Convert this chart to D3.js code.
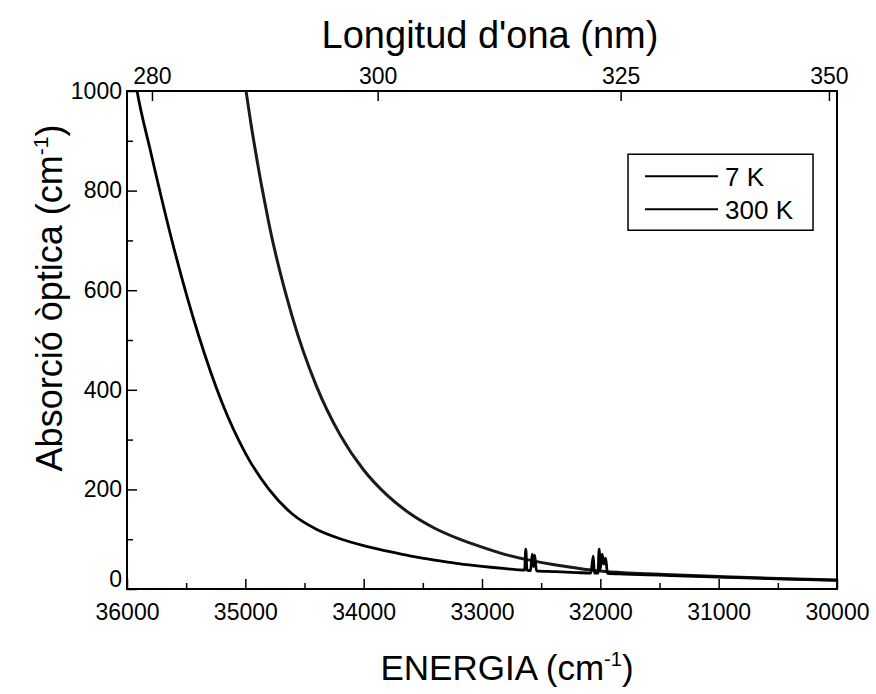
<!DOCTYPE html>
<html>
<head>
<meta charset="utf-8">
<script src="https://cdn.jsdelivr.net/npm/d3@7"></script>
<style>
  body { margin: 0; background: #fff; }
  text { font-family: "Liberation Sans", Arial, sans-serif; fill: #000; }
</style>
</head>
<body>
<svg id="chart"></svg>
<script>
// 7 K spectrum (energy in cm-1, absorption in cm-1), sharp lines near 32600 and 32000
var energy7K = [35960, 35915, 35800, 35600, 35400, 35200, 35000, 34800, 34600, 34400, 34200, 34000,
                33800, 33600, 33400, 33200, 33000, 32800,
                32640, 32630, 32620, 32590, 32575, 32565, 32555, 32540,
                32400, 32200, 32080, 32060, 32050, 32020, 32010, 32000, 31985, 31970, 31955, 31940,
                31800, 31600, 31400, 31000, 30500, 30000];
var abs7K    = [1066, 1000, 878, 681, 513, 376, 273, 200, 150, 120, 101, 87,
                76, 66, 58, 51, 45.5, 41,
                38, 80, 38, 37, 70, 45, 68, 36.5,
                35, 33, 32, 66, 32, 32, 80, 40, 70, 50, 62, 31.5,
                30, 28.5, 27, 24, 20.5, 17.5];

// 300 K spectrum
var energy300K = [35040, 34994, 34800, 34600, 34400, 34200, 34000, 33800, 33600, 33400, 33200, 33000,
                  32800, 32600, 32400, 32200, 32000, 31800, 31600, 31400, 31000, 30500, 30000];
var abs300K    = [1080, 1000, 733, 544, 408, 310, 239, 188, 150, 122, 101, 84,
                  69, 58, 49, 42, 36, 32.5, 30.5, 28.5, 25, 21, 18];

var xTicks = [36000, 35000, 34000, 33000, 32000, 31000, 30000];
var yTicks = [0, 200, 400, 600, 800, 1000];
var nmTicks = [280, 300, 325, 350];
// energies (on the bottom scale) where the 280 and 350 nm ticks sit
var nmRef = [280, 350];
var nmRefEnergy = [35789, 30068];

var seriesNames = ["7 K", "300 K"];

var svgWidth = 876, svgHeight = 694;
var margin = { top: 91, right: 39, bottom: 105, left: 127 };
var width = svgWidth - margin.left - margin.right;
var height = svgHeight - margin.top - margin.bottom;

var svg = d3.select("#chart")
    .attr("width", svgWidth)
    .attr("height", svgHeight);

var g = svg.append("g")
    .attr("transform", "translate(" + margin.left + "," + margin.top + ")");

var x = d3.scaleLinear().domain([36000, 30000]).range([0, width]);
var y = d3.scaleLinear().domain([0, 1000]).range([height, 0]);
var xTop = d3.scaleLinear()
    .domain([1 / nmRef[0], 1 / nmRef[1]])
    .range([x(nmRefEnergy[0]), x(nmRefEnergy[1])]);

g.append("clipPath").attr("id", "clip")
  .append("rect").attr("width", width).attr("height", height);

// minor ticks first
g.append("g")
    .attr("transform", "translate(0," + height + ")")
    .call(d3.axisBottom(x).tickValues(d3.range(35500, 30000, -1000)).tickSize(-6).tickFormat(""));
g.append("g")
    .call(d3.axisLeft(y).tickValues(d3.range(100, 1000, 200)).tickSize(-6).tickFormat(""));

var xAxis = g.append("g")
    .attr("transform", "translate(0," + height + ")")
    .call(d3.axisBottom(x).tickValues(xTicks).tickSize(-10).tickPadding(15).tickFormat(d3.format("d")));

var yAxis = g.append("g")
    .call(d3.axisLeft(y).tickValues(yTicks).tickSize(-10).tickPadding(5).tickFormat(d3.format("d")));

var topAxis = g.append("g")
    .call(d3.axisTop(xTop).tickValues(nmTicks.map(function(d) { return 1 / d; }))
        .tickSize(-10).tickPadding(7)
        .tickFormat(function(d) { return Math.round(1 / d); }));

g.selectAll(".domain").remove();
g.selectAll(".tick line").attr("stroke", "#000").attr("stroke-width", 1.5);
g.selectAll(".tick text").style("font-size", "23px");

// the 0 label sits a bit above its tick
yAxis.selectAll(".tick text").filter(function(d) { return d === 0; }).attr("dy", "-0.1em");

// frame
g.append("rect")
    .attr("width", width)
    .attr("height", height)
    .attr("fill", "none")
    .attr("stroke", "#000")
    .attr("stroke-width", 2);

var line = d3.line()
    .x(function(d) { return x(d[0]); })
    .y(function(d) { return y(d[1]); })
    .curve(d3.curveMonotoneX);

var data7K = energy7K.map(function(e, i) { return [e, abs7K[i]]; });
var data300K = energy300K.map(function(e, i) { return [e, abs300K[i]]; });

var curves = g.append("g").attr("clip-path", "url(#clip)");
curves.append("path")
    .datum(data300K)
    .attr("fill", "none")
    .attr("stroke", "#1a1a1a")
    .attr("stroke-width", 3)
    .attr("d", line);
curves.append("path")
    .datum(data7K)
    .attr("fill", "none")
    .attr("stroke", "#000")
    .attr("stroke-width", 2.8)
    .attr("stroke-linejoin", "round")
    .attr("d", line);

// legend
var legend = g.append("g").attr("transform", "translate(" + x(31766) + "," + y(873) + ")");
legend.append("rect")
    .attr("width", 185)
    .attr("height", 76)
    .attr("fill", "#fff")
    .attr("stroke", "#000")
    .attr("stroke-width", 1.5);
seriesNames.forEach(function(name, i) {
    var ly = 22 + i * 33;
    legend.append("line")
        .attr("x1", 17).attr("x2", 90)
        .attr("y1", ly).attr("y2", ly)
        .attr("stroke", "#000")
        .attr("stroke-width", 2);
    legend.append("text")
        .attr("x", 97).attr("y", ly)
        .attr("dy", "0.36em")
        .style("font-size", "26px")
        .text(name);
});

// axis titles
var xt = svg.append("text")
    .attr("x", 507)
    .attr("y", 680)
    .attr("text-anchor", "middle")
    .style("font-size", "35px")
    .text("ENERGIA (cm");
xt.append("tspan").attr("dy", -14).style("font-size", "20px").text("-1");
xt.append("tspan").attr("dy", 14).text(")");

svg.append("text")
    .attr("x", 490)
    .attr("y", 48)
    .attr("text-anchor", "middle")
    .style("font-size", "38px")
    .text("Longitud d'ona (nm)");

var yt = svg.append("text")
    .attr("transform", "translate(62,298) rotate(-90)")
    .attr("text-anchor", "middle")
    .style("font-size", "36px")
    .text("Absorció òptica (cm");
yt.append("tspan").attr("dy", -14).style("font-size", "21px").text("-1");
yt.append("tspan").attr("dy", 14).text(")");
</script>
</body>
</html>
